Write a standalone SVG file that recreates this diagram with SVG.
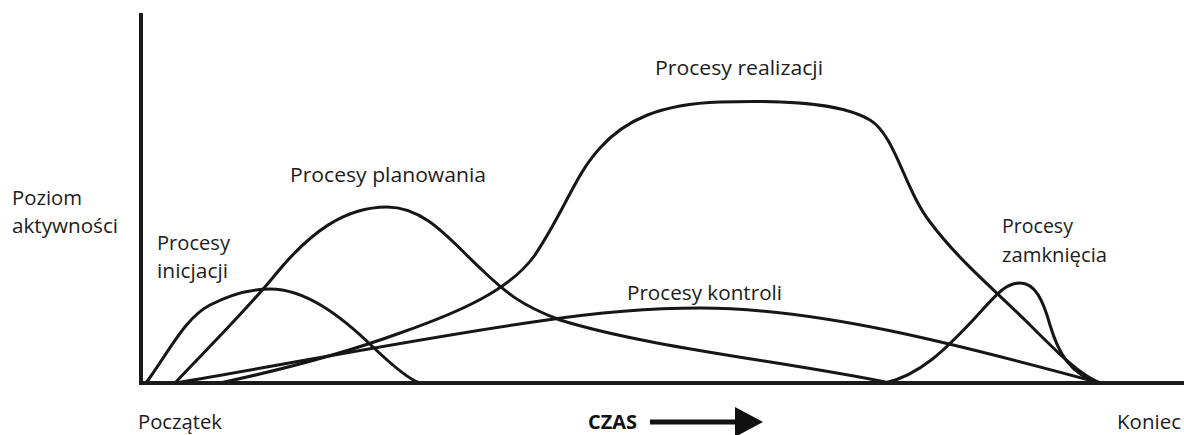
<svg xmlns="http://www.w3.org/2000/svg" width="1184" height="435" viewBox="0 0 1184 435">
<style>
.t{font-family:"Open Sans","Liberation Sans",sans-serif;font-size:20px;fill:#1c1c1c}
.b{font-weight:bold;fill:#111}
.c{fill:none;stroke:#161616;stroke-width:3;stroke-linecap:round;stroke-linejoin:round}
.ax{fill:none;stroke:#1a1a1a;stroke-width:4}
</style>
<rect width="1184" height="435" fill="#fff"/>
<g id="curves">
<path id="inicjacji" class="c" d="M146,383 C170,350 185,318 210,305 C235,292 255,289 270,289 C305,289 340,315 373,347 C395,368 410,380 420,383"/>
<path id="planowania" class="c" d="M175,383 C200,356 245,312 275,275 C310,232 345,207 387,207 C425,207 450,240 480,268 C505,292 520,305 560,320 C650,348 790,362 890,383"/>
<path id="realizacji" class="c" d="M220,383 C280,370 340,355 400,333 C460,312 510,290 535,255 C565,210 575,175 600,148 C625,120 660,104 720,102 C780,100 840,102 870,120 C895,135 905,190 930,222 C960,262 995,290 1030,325 C1060,355 1080,375 1100,383"/>
<path id="kontroli" class="c" d="M175,383 C300,362 420,338 540,321 C600,312 650,308 700,308 C820,308 960,345 1100,383"/>
<path id="zamkniecia" class="c" d="M885,383 C920,375 945,350 975,318 C995,296 1005,283 1020,283 C1035,283 1043,300 1050,325 C1058,352 1070,375 1100,383"/>
</g>
<g id="axes">
<line class="ax" x1="141" y1="13" x2="141" y2="385"/>
<line class="ax" x1="139" y1="383" x2="1184" y2="383"/>
</g>
<g id="labels">
<text class="t" x="12" y="205" textLength="70" lengthAdjust="spacingAndGlyphs">Poziom</text>
<text class="t" x="12" y="233" textLength="106" lengthAdjust="spacingAndGlyphs">aktywności</text>
<text class="t" x="157" y="250" textLength="73" lengthAdjust="spacingAndGlyphs">Procesy</text>
<text class="t" x="157" y="278" textLength="71" lengthAdjust="spacingAndGlyphs">inicjacji</text>
<text class="t" x="290" y="182" textLength="196" lengthAdjust="spacingAndGlyphs">Procesy planowania</text>
<text class="t" x="655" y="75" textLength="168" lengthAdjust="spacingAndGlyphs">Procesy realizacji</text>
<text class="t" x="627" y="300" textLength="155" lengthAdjust="spacingAndGlyphs">Procesy kontroli</text>
<text class="t" x="1002" y="233" textLength="71" lengthAdjust="spacingAndGlyphs">Procesy</text>
<text class="t" x="1002" y="262" textLength="105" lengthAdjust="spacingAndGlyphs">zamknięcia</text>
<text class="t" x="138" y="429" textLength="84" lengthAdjust="spacingAndGlyphs">Początek</text>
<text class="t b" x="588" y="429" textLength="49" lengthAdjust="spacingAndGlyphs">CZAS</text>
<text class="t" x="1117" y="429" textLength="64" lengthAdjust="spacingAndGlyphs">Koniec</text>
</g>
<g id="time-arrow">
<line x1="650" y1="422" x2="737" y2="422" stroke="#111" stroke-width="5"/>
<polygon points="735,407 763,422 735,437" fill="#111"/>
</g>
</svg>
